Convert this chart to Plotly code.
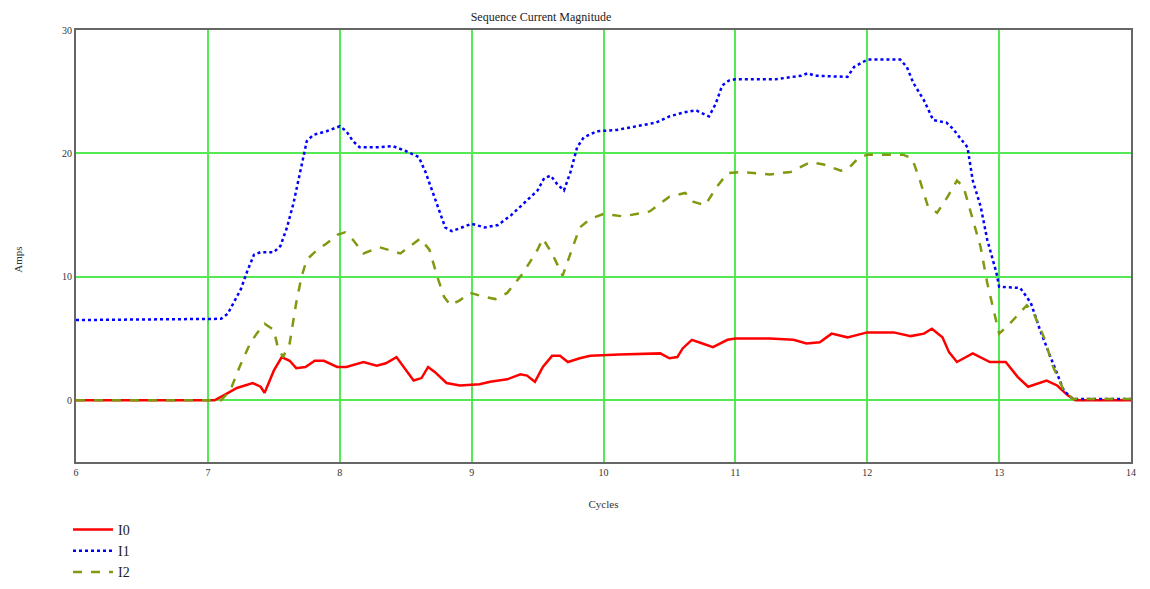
"""
Sequence current magnitude (I0 / I1 / I2) vs cycles
"""

import plotly.graph_objects as go

# I0 - zero sequence
i0_cycles = [6.0, 7.05, 7.12, 7.22, 7.34, 7.4, 7.43, 7.5, 7.56, 7.62, 7.67, 7.74, 7.81, 7.88,
             7.98, 8.05, 8.18, 8.28, 8.35, 8.43, 8.56, 8.62, 8.67, 8.72, 8.81, 8.91, 9.06,
             9.14, 9.27, 9.37, 9.42, 9.48, 9.54, 9.61, 9.67, 9.73, 9.82, 9.9, 10.12, 10.43,
             10.5, 10.56, 10.6, 10.67, 10.75, 10.83, 10.94, 11.0, 11.26, 11.44, 11.54, 11.64,
             11.73, 11.85, 12.0, 12.2, 12.33, 12.43, 12.49, 12.57, 12.62, 12.68, 12.8, 12.93,
             13.05, 13.14, 13.22, 13.36, 13.44, 13.52, 13.58, 14.0]
i0_amps = [0.0, 0.0, 0.4, 1.0, 1.4, 1.1, 0.6, 2.4, 3.5, 3.2, 2.6, 2.7, 3.2, 3.2,
           2.7, 2.7, 3.1, 2.8, 3.0, 3.5, 1.6, 1.8, 2.7, 2.3, 1.4, 1.2, 1.3,
           1.5, 1.7, 2.1, 2.0, 1.5, 2.7, 3.6, 3.6, 3.1, 3.4, 3.6, 3.7, 3.8,
           3.4, 3.5, 4.2, 4.9, 4.6, 4.3, 4.9, 5.0, 5.0, 4.9, 4.6, 4.7,
           5.4, 5.1, 5.5, 5.5, 5.2, 5.4, 5.8, 5.1, 3.9, 3.1, 3.8, 3.1,
           3.1, 1.9, 1.1, 1.6, 1.2, 0.4, 0.0, 0.0]

# I1 - positive sequence
i1_cycles = [6.0, 7.1, 7.15, 7.2, 7.25, 7.3, 7.35, 7.4, 7.5, 7.55, 7.6, 7.65, 7.7, 7.75,
             7.8, 7.9, 8.0, 8.05, 8.1, 8.15, 8.3, 8.4, 8.5, 8.6, 8.65, 8.7, 8.75, 8.8,
             8.85, 8.9, 9.0, 9.1, 9.2, 9.3, 9.4, 9.5, 9.55, 9.6, 9.65, 9.7, 9.75, 9.8,
             9.85, 9.95, 10.1, 10.3, 10.4, 10.5, 10.6, 10.7, 10.8, 10.85, 10.9, 10.95,
             11.0, 11.3, 11.5, 11.55, 11.6, 11.85, 11.9, 12.0, 12.25, 12.3, 12.35, 12.43,
             12.5, 12.6, 12.65, 12.7, 12.76, 12.8, 12.86, 12.91, 12.98, 13.0, 13.16,
             13.24, 13.31, 13.39, 13.49, 13.56, 14.0]
i1_amps = [6.5, 6.6, 7.0, 8.0, 9.0, 10.5, 11.8, 12.0, 12.0, 12.5, 14.0, 16.0, 18.5, 21.0,
           21.5, 21.8, 22.2, 21.8, 21.0, 20.5, 20.5, 20.6, 20.2, 19.7, 18.5, 17.0, 15.5, 14.0,
           13.7, 13.9, 14.3, 14.0, 14.2, 15.0, 16.0, 17.0, 18.0, 18.2, 17.5, 17.0, 18.5, 20.5,
           21.3, 21.8, 21.9, 22.3, 22.5, 23.0, 23.3, 23.5, 23.0, 24.0, 25.5, 25.9,
           26.0, 26.0, 26.3, 26.5, 26.3, 26.2, 27.0, 27.6, 27.6, 27.0, 25.7, 24.3,
           22.7, 22.5, 22.0, 21.3, 20.5, 17.8, 15.7, 13.0, 10.3, 9.2, 9.1,
           7.9, 5.7, 3.5, 0.8, 0.1, 0.1]

# I2 - negative sequence
i2_cycles = [6.0, 7.1, 7.17, 7.24, 7.32, 7.37, 7.43, 7.5, 7.53, 7.57, 7.62, 7.67, 7.71,
             7.75, 7.83, 7.9, 7.98, 8.04, 8.1, 8.18, 8.3, 8.46, 8.61, 8.68, 8.74, 8.79,
             8.84, 8.91, 8.99, 9.09, 9.18, 9.27, 9.39, 9.5, 9.54, 9.61, 9.69, 9.76, 9.82,
             9.9, 10.0, 10.15, 10.35, 10.5, 10.62, 10.68, 10.77, 10.86, 10.94, 11.04, 11.26,
             11.42, 11.57, 11.67, 11.8, 11.86, 11.93, 12.0, 12.27, 12.34, 12.4, 12.46,
             12.53, 12.61, 12.68, 12.73, 12.8, 12.86, 12.91, 12.96, 13.0, 13.08, 13.21,
             13.26, 13.34, 13.41, 13.49, 13.56, 14.0]
i2_amps = [0.0, 0.0, 0.8, 2.7, 4.6, 5.4, 6.2, 5.7, 4.3, 3.5, 4.6, 7.9, 10.0,
           11.4, 12.2, 12.7, 13.4, 13.6, 13.0, 11.9, 12.4, 11.9, 13.1, 12.2, 10.0, 8.4,
           7.7, 8.1, 8.7, 8.4, 8.2, 8.7, 10.3, 12.2, 13.1, 11.9, 10.1, 12.2, 14.0,
           14.7, 15.1, 14.9, 15.3, 16.5, 16.8, 16.1, 15.8, 17.3, 18.4, 18.5, 18.3,
           18.5, 19.3, 19.1, 18.6, 18.8, 19.6, 19.9, 19.9, 19.6, 17.8, 15.7,
           15.2, 16.5, 17.8, 17.3, 14.6, 12.4, 9.5, 7.1, 5.4, 6.2, 7.7,
           7.1, 5.1, 2.7, 0.8, 0.1, 0.1]

x_ticks = [6, 7, 8, 9, 10, 11, 12, 13, 14]
y_ticks = [0, 10, 20, 30]

SERIF = "Liberation Serif"
GRID = "#55e855"

fig = go.Figure()
fig.add_trace(go.Scatter(x=i0_cycles, y=i0_amps, name="I0", mode="lines",
                         line=dict(color="#ff0000", width=2.5)))
fig.add_trace(go.Scatter(x=i1_cycles, y=i1_amps, name="I1", mode="lines",
                         line=dict(color="#0000ff", width=2.5, dash="dot")))
fig.add_trace(go.Scatter(x=i2_cycles, y=i2_amps, name="I2", mode="lines",
                         line=dict(color="#7f9a10", width=2.5, dash="dash")))

# page body has an 8px margin, so the figure is a bit smaller than the window
fig.update_layout(
    width=1142, height=581,
    paper_bgcolor="white", plot_bgcolor="white",
    margin=dict(l=68, r=19, t=22, b=127, autoexpand=False),
    font=dict(family=SERIF, size=10, color="#333333"),
    title=dict(text="Sequence Current Magnitude", x=533 / 1142, xanchor="center",
               y=0.985, yanchor="middle", font=dict(family=SERIF, size=12, color="#222222")),
    showlegend=True,
    legend=dict(xref="container", yref="container", x=60 / 1142, y=1 - 506 / 581,
                xanchor="left", yanchor="top",
                font=dict(family=SERIF, size=14, color="#222222"),
                tracegroupgap=0, itemwidth=40, bgcolor="rgba(0,0,0,0)"),
)
# y-axis label as an annotation (axis title standoff misbehaves with autoexpand off)
fig.add_annotation(text="Amps", xref="paper", yref="paper", x=-0.055, y=0.468,
                   showarrow=False, textangle=-90, xanchor="center", yanchor="middle",
                   font=dict(family=SERIF, size=11, color="#333333"))

fig.update_xaxes(range=[6, 14], tickvals=x_ticks, showgrid=True, gridcolor=GRID, gridwidth=1.5,
                 zeroline=False, showline=True, linecolor="#666666", linewidth=2, mirror=True,
                 ticks="", title=dict(text="Cycles", font=dict(family=SERIF, size=11), standoff=23))
fig.update_yaxes(range=[-5, 30], tickvals=y_ticks, showgrid=True, gridcolor=GRID, gridwidth=1.5,
                 zeroline=False, showline=True, linecolor="#666666", linewidth=2, mirror=True,
                 ticks="")

fig.write_html("out.html")
